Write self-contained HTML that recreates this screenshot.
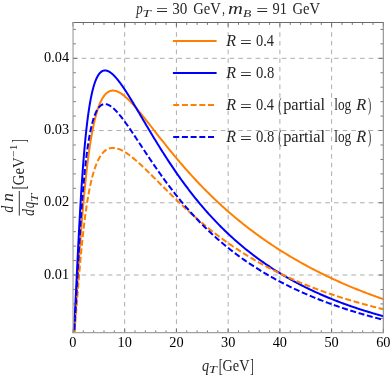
<!DOCTYPE html>
<html><head><meta charset="utf-8"><title>plot</title>
<style>html,body{margin:0;padding:0;background:#fff;}.tx,.tx text,.tx tspan{font-family:"Liberation Serif",serif;}body{width:390px;height:379px;position:relative;overflow:hidden;font-family:"Liberation Serif",serif;}</style>
</head><body>
<svg width="390" height="379" viewBox="0 0 390 379" style="position:absolute;left:0;top:0;will-change:transform">
<defs><clipPath id="cp"><rect x="72.95" y="22.70" width="310.40" height="309.90"/></clipPath></defs>
<g stroke="#adadad" stroke-width="1" stroke-dasharray="4.6 4.1" fill="none"><line x1="124.68" x2="124.68" y1="332.60" y2="22.70"/><line x1="176.42" x2="176.42" y1="332.60" y2="22.70"/><line x1="228.15" x2="228.15" y1="332.60" y2="22.70"/><line x1="279.88" x2="279.88" y1="332.60" y2="22.70"/><line x1="331.62" x2="331.62" y1="332.60" y2="22.70"/><line x1="72.95" x2="383.35" y1="275.02" y2="275.02"/><line x1="72.95" x2="383.35" y1="202.78" y2="202.78"/><line x1="72.95" x2="383.35" y1="130.54" y2="130.54"/><line x1="72.95" x2="383.35" y1="58.30" y2="58.30"/></g>
<g clip-path="url(#cp)" fill="none" stroke-width="2.00" stroke-linejoin="round">
<path d="M73.11,347.19 L73.21,345.86 L73.31,344.51 L73.42,343.14 L73.52,341.75 L73.63,340.34 L73.73,338.92 L73.83,337.49 L73.94,336.03 L74.04,334.57 L74.15,333.09 L74.25,331.60 L74.35,330.10 L74.46,328.59 L74.56,327.06 L74.67,325.53 L74.77,323.99 L74.88,322.44 L74.98,320.88 L75.08,319.32 L75.19,317.75 L75.29,316.17 L75.40,314.59 L75.50,313.00 L75.60,311.41 L75.71,309.82 L75.81,308.22 L75.92,306.62 L76.02,305.02 L76.12,303.42 L76.23,301.81 L76.33,300.21 L76.44,298.60 L76.54,296.99 L76.65,295.39 L76.75,293.78 L76.85,292.18 L76.96,290.57 L77.06,288.97 L77.17,287.37 L77.27,285.78 L77.37,284.18 L77.48,282.59 L77.58,281.00 L77.69,279.42 L77.79,277.84 L77.89,276.26 L78.00,274.69 L78.10,273.13 L78.21,271.56 L78.31,270.01 L78.42,268.45 L78.52,266.91 L78.62,265.37 L78.73,263.83 L78.83,262.31 L78.94,260.78 L79.04,259.27 L79.14,257.76 L79.25,256.26 L79.35,254.76 L79.46,253.27 L79.56,251.79 L79.67,250.32 L79.77,248.85 L79.87,247.39 L79.98,245.94 L80.08,244.50 L80.19,243.06 L80.29,241.63 L80.39,240.21 L80.50,238.80 L80.60,237.39 L80.71,236.00 L80.81,234.61 L80.91,233.23 L81.02,231.86 L81.12,230.50 L81.23,229.14 L81.33,227.79 L81.44,226.46 L81.54,225.13 L81.64,223.81 L81.75,222.50 L81.85,221.19 L81.96,219.90 L82.06,218.61 L82.16,217.34 L82.27,216.07 L82.37,214.81 L82.48,213.56 L82.58,212.32 L82.68,211.08 L82.79,209.86 L82.89,208.64 L83.00,207.44 L83.10,206.24 L83.21,205.05 L83.31,203.87 L83.41,202.70 L83.52,201.54 L83.62,200.38 L83.73,199.24 L83.83,198.10 L83.93,196.97 L84.04,195.85 L84.14,194.74 L84.25,193.64 L84.35,192.54 L84.45,191.46 L84.56,190.38 L84.66,189.31 L84.77,188.26 L84.87,187.20 L84.98,186.16 L85.08,185.13 L85.18,184.10 L85.29,183.08 L85.39,182.07 L85.50,181.07 L85.60,180.08 L85.70,179.10 L85.81,178.12 L85.91,177.15 L86.02,176.19 L86.12,175.24 L86.23,174.29 L86.33,173.36 L86.43,172.43 L86.54,171.51 L86.64,170.60 L86.75,169.69 L86.85,168.79 L86.95,167.90 L87.06,167.02 L87.16,166.15 L87.27,165.28 L87.37,164.42 L87.47,163.57 L87.58,162.73 L87.68,161.89 L87.79,161.06 L87.89,160.24 L88.00,159.42 L88.10,158.62 L88.20,157.82 L88.31,157.02 L88.41,156.24 L88.52,155.46 L88.62,154.69 L88.93,152.42 L89.24,150.20 L89.56,148.05 L89.87,145.96 L90.18,143.93 L90.49,141.95 L90.80,140.03 L91.12,138.16 L91.43,136.35 L91.74,134.59 L92.05,132.87 L92.36,131.21 L92.68,129.60 L92.99,128.03 L93.30,126.51 L93.61,125.04 L93.92,123.61 L94.24,122.22 L94.55,120.88 L94.86,119.57 L95.17,118.31 L95.48,117.09 L95.80,115.90 L96.11,114.76 L96.42,113.65 L96.73,112.57 L97.04,111.54 L97.35,110.53 L97.67,109.56 L97.98,108.62 L98.29,107.72 L98.60,106.84 L98.91,106.00 L99.23,105.19 L99.54,104.40 L99.85,103.65 L100.16,102.92 L100.47,102.22 L100.79,101.54 L101.10,100.89 L101.41,100.27 L101.72,99.67 L102.03,99.10 L102.35,98.55 L102.66,98.02 L102.97,97.51 L103.28,97.03 L103.59,96.57 L103.91,96.13 L104.22,95.70 L104.53,95.30 L104.84,94.92 L105.15,94.56 L105.47,94.22 L105.78,93.89 L106.09,93.59 L106.40,93.30 L106.71,93.02 L107.03,92.77 L107.34,92.53 L107.65,92.30 L107.96,92.09 L108.27,91.90 L108.59,91.72 L108.90,91.56 L109.21,91.41 L109.52,91.27 L109.83,91.15 L110.15,91.04 L110.46,90.94 L110.77,90.86 L111.08,90.78 L111.39,90.72 L111.71,90.68 L112.02,90.64 L112.33,90.61 L112.64,90.60 L112.95,90.59 L113.26,90.60 L113.58,90.61 L113.89,90.64 L114.20,90.68 L114.51,90.72 L114.82,90.78 L115.14,90.84 L115.45,90.91 L115.76,90.99 L116.07,91.08 L116.38,91.18 L116.70,91.29 L117.01,91.40 L117.32,91.52 L117.63,91.65 L117.94,91.79 L118.26,91.93 L118.57,92.08 L118.88,92.24 L119.19,92.40 L119.50,92.57 L119.82,92.75 L120.13,92.93 L120.44,93.12 L120.75,93.31 L121.06,93.52 L121.38,93.72 L121.69,93.93 L122.00,94.15 L122.31,94.37 L122.62,94.60 L122.94,94.83 L123.25,95.07 L123.56,95.31 L123.87,95.56 L124.18,95.81 L124.50,96.07 L124.81,96.33 L125.12,96.60 L125.43,96.86 L125.74,97.14 L126.06,97.41 L126.37,97.69 L126.68,97.98 L126.99,98.27 L127.30,98.56 L127.61,98.85 L127.93,99.15 L128.24,99.45 L128.55,99.76 L128.86,100.07 L129.17,100.38 L129.49,100.69 L129.80,101.01 L130.11,101.33 L130.42,101.65 L130.73,101.98 L131.05,102.31 L131.36,102.64 L131.67,102.97 L131.98,103.30 L132.29,103.64 L132.61,103.98 L132.92,104.32 L133.23,104.67 L133.54,105.02 L133.85,105.36 L134.17,105.71 L134.48,106.07 L134.79,106.42 L135.10,106.78 L135.41,107.14 L135.73,107.49 L136.04,107.86 L136.35,108.22 L136.66,108.58 L136.97,108.95 L137.29,109.32 L137.60,109.69 L137.91,110.06 L138.22,110.43 L138.53,110.80 L138.85,111.18 L139.16,111.55 L139.47,111.93 L139.78,112.31 L140.09,112.68 L140.41,113.06 L140.72,113.45 L141.03,113.83 L141.34,114.21 L141.65,114.59 L141.97,114.98 L142.28,115.36 L142.59,115.75 L142.90,116.14 L143.21,116.53 L143.52,116.92 L143.84,117.30 L144.15,117.69 L144.46,118.09 L144.77,118.48 L145.08,118.87 L145.40,119.26 L145.71,119.65 L146.02,120.05 L146.33,120.44 L146.64,120.84 L146.96,121.23 L147.27,121.63 L147.58,122.02 L147.89,122.42 L148.20,122.81 L148.52,123.21 L148.83,123.61 L149.14,124.00 L149.45,124.40 L149.76,124.80 L150.08,125.20 L150.39,125.59 L150.70,125.99 L151.88,127.50 L153.06,129.00 L154.23,130.51 L155.41,132.01 L156.59,133.52 L157.77,135.02 L158.94,136.52 L160.12,138.01 L161.30,139.51 L162.48,140.99 L163.65,142.48 L164.83,143.95 L166.01,145.43 L167.19,146.89 L168.36,148.35 L169.54,149.80 L170.72,151.25 L171.90,152.69 L173.08,154.12 L174.25,155.54 L175.43,156.96 L176.61,158.37 L177.79,159.77 L178.96,161.16 L180.14,162.54 L181.32,163.92 L182.50,165.28 L183.67,166.64 L184.85,167.99 L186.03,169.33 L187.21,170.66 L188.38,171.98 L189.56,173.29 L190.74,174.60 L191.92,175.89 L193.10,177.18 L194.27,178.45 L195.45,179.72 L196.63,180.98 L197.81,182.23 L198.98,183.47 L200.16,184.70 L201.34,185.93 L202.52,187.14 L203.69,188.35 L204.87,189.54 L206.05,190.73 L207.23,191.91 L208.40,193.08 L209.58,194.24 L210.76,195.40 L211.94,196.54 L213.12,197.68 L214.29,198.81 L215.47,199.93 L216.65,201.04 L217.83,202.14 L219.00,203.23 L220.18,204.32 L221.36,205.40 L222.54,206.47 L223.71,207.53 L224.89,208.59 L226.07,209.63 L227.25,210.67 L228.42,211.70 L229.60,212.73 L230.78,213.74 L231.96,214.75 L233.14,215.75 L234.31,216.74 L235.49,217.73 L236.67,218.71 L237.85,219.68 L239.02,220.64 L240.20,221.60 L241.38,222.55 L242.56,223.49 L243.73,224.43 L244.91,225.36 L246.09,226.28 L247.27,227.20 L248.44,228.11 L249.62,229.01 L250.80,229.90 L251.98,230.79 L253.16,231.67 L254.33,232.55 L255.51,233.42 L256.69,234.28 L257.87,235.14 L259.04,235.99 L260.22,236.84 L261.40,237.68 L262.58,238.51 L263.75,239.33 L264.93,240.16 L266.11,240.97 L267.29,241.78 L268.46,242.58 L269.64,243.38 L270.82,244.17 L272.00,244.96 L273.18,245.74 L274.35,246.51 L275.53,247.28 L276.71,248.05 L277.89,248.81 L279.06,249.56 L280.24,250.31 L281.42,251.05 L282.60,251.79 L283.77,252.52 L284.95,253.25 L286.13,253.97 L287.31,254.68 L288.48,255.40 L289.66,256.10 L290.84,256.81 L292.02,257.50 L293.20,258.19 L294.37,258.88 L295.55,259.56 L296.73,260.24 L297.91,260.91 L299.08,261.58 L300.26,262.25 L301.44,262.91 L302.62,263.56 L303.79,264.21 L304.97,264.86 L306.15,265.50 L307.33,266.13 L308.50,266.77 L309.68,267.39 L310.86,268.02 L312.04,268.64 L313.22,269.25 L314.39,269.86 L315.57,270.47 L316.75,271.07 L317.93,271.67 L319.10,272.26 L320.28,272.85 L321.46,273.44 L322.64,274.02 L323.81,274.60 L324.99,275.17 L326.17,275.74 L327.35,276.31 L328.52,276.87 L329.70,277.43 L330.88,277.98 L332.06,278.53 L333.24,279.08 L334.41,279.62 L335.59,280.16 L336.77,280.69 L337.95,281.23 L339.12,281.75 L340.30,282.28 L341.48,282.80 L342.66,283.32 L343.83,283.83 L345.01,284.34 L346.19,284.85 L347.37,285.35 L348.54,285.85 L349.72,286.35 L350.90,286.84 L352.08,287.33 L353.26,287.81 L354.43,288.30 L355.61,288.78 L356.79,289.25 L357.97,289.72 L359.14,290.19 L360.32,290.66 L361.50,291.12 L362.68,291.58 L363.85,292.04 L365.03,292.49 L366.21,292.94 L367.39,293.39 L368.56,293.83 L369.74,294.27 L370.92,294.71 L372.10,295.15 L373.28,295.58 L374.45,296.01 L375.63,296.43 L376.81,296.85 L377.99,297.27 L379.16,297.69 L380.34,298.11 L381.52,298.52 L382.70,298.92 L383.87,299.33 L385.05,299.73" stroke="#ff8000"/>
<path d="M73.11,347.18 L73.21,345.51 L73.31,343.81 L73.42,342.07 L73.52,340.30 L73.63,338.49 L73.73,336.66 L73.83,334.79 L73.94,332.89 L74.04,330.97 L74.15,329.03 L74.25,327.05 L74.35,325.06 L74.46,323.05 L74.56,321.02 L74.67,318.97 L74.77,316.90 L74.88,314.81 L74.98,312.72 L75.08,310.61 L75.19,308.49 L75.29,306.36 L75.40,304.21 L75.50,302.07 L75.60,299.91 L75.71,297.75 L75.81,295.58 L75.92,293.41 L76.02,291.24 L76.12,289.06 L76.23,286.88 L76.33,284.71 L76.44,282.53 L76.54,280.36 L76.65,278.18 L76.75,276.01 L76.85,273.85 L76.96,271.69 L77.06,269.53 L77.17,267.38 L77.27,265.24 L77.37,263.10 L77.48,260.97 L77.58,258.85 L77.69,256.74 L77.79,254.63 L77.89,252.54 L78.00,250.45 L78.10,248.38 L78.21,246.32 L78.31,244.27 L78.42,242.23 L78.52,240.20 L78.62,238.18 L78.73,236.18 L78.83,234.19 L78.94,232.21 L79.04,230.25 L79.14,228.30 L79.25,226.36 L79.35,224.44 L79.46,222.53 L79.56,220.64 L79.67,218.76 L79.77,216.90 L79.87,215.05 L79.98,213.21 L80.08,211.40 L80.19,209.59 L80.29,207.80 L80.39,206.03 L80.50,204.27 L80.60,202.53 L80.71,200.80 L80.81,199.09 L80.91,197.40 L81.02,195.72 L81.12,194.06 L81.23,192.41 L81.33,190.78 L81.44,189.16 L81.54,187.56 L81.64,185.97 L81.75,184.40 L81.85,182.85 L81.96,181.31 L82.06,179.79 L82.16,178.28 L82.27,176.79 L82.37,175.31 L82.48,173.85 L82.58,172.41 L82.68,170.98 L82.79,169.56 L82.89,168.16 L83.00,166.78 L83.10,165.41 L83.21,164.06 L83.31,162.72 L83.41,161.39 L83.52,160.08 L83.62,158.78 L83.73,157.50 L83.83,156.24 L83.93,154.98 L84.04,153.74 L84.14,152.52 L84.25,151.31 L84.35,150.11 L84.45,148.93 L84.56,147.76 L84.66,146.60 L84.77,145.46 L84.87,144.33 L84.98,143.22 L85.08,142.12 L85.18,141.03 L85.29,139.95 L85.39,138.89 L85.50,137.84 L85.60,136.80 L85.70,135.77 L85.81,134.76 L85.91,133.76 L86.02,132.77 L86.12,131.79 L86.23,130.83 L86.33,129.87 L86.43,128.93 L86.54,128.00 L86.64,127.08 L86.75,126.18 L86.85,125.28 L86.95,124.40 L87.06,123.52 L87.16,122.66 L87.27,121.81 L87.37,120.97 L87.47,120.14 L87.58,119.32 L87.68,118.51 L87.79,117.71 L87.89,116.92 L88.00,116.14 L88.10,115.37 L88.20,114.61 L88.31,113.87 L88.41,113.13 L88.52,112.40 L88.62,111.68 L88.93,109.58 L89.24,107.56 L89.56,105.62 L89.87,103.75 L90.18,101.96 L90.49,100.25 L90.80,98.60 L91.12,97.02 L91.43,95.51 L91.74,94.06 L92.05,92.67 L92.36,91.34 L92.68,90.06 L92.99,88.85 L93.30,87.68 L93.61,86.57 L93.92,85.51 L94.24,84.50 L94.55,83.53 L94.86,82.61 L95.17,81.74 L95.48,80.90 L95.80,80.11 L96.11,79.36 L96.42,78.65 L96.73,77.97 L97.04,77.34 L97.35,76.73 L97.67,76.16 L97.98,75.63 L98.29,75.12 L98.60,74.65 L98.91,74.21 L99.23,73.79 L99.54,73.41 L99.85,73.05 L100.16,72.72 L100.47,72.41 L100.79,72.13 L101.10,71.88 L101.41,71.64 L101.72,71.43 L102.03,71.24 L102.35,71.08 L102.66,70.93 L102.97,70.80 L103.28,70.70 L103.59,70.61 L103.91,70.54 L104.22,70.49 L104.53,70.46 L104.84,70.44 L105.15,70.44 L105.47,70.45 L105.78,70.48 L106.09,70.53 L106.40,70.59 L106.71,70.66 L107.03,70.75 L107.34,70.85 L107.65,70.97 L107.96,71.09 L108.27,71.23 L108.59,71.38 L108.90,71.55 L109.21,71.72 L109.52,71.90 L109.83,72.10 L110.15,72.31 L110.46,72.52 L110.77,72.75 L111.08,72.98 L111.39,73.23 L111.71,73.48 L112.02,73.74 L112.33,74.01 L112.64,74.29 L112.95,74.58 L113.26,74.87 L113.58,75.17 L113.89,75.48 L114.20,75.80 L114.51,76.12 L114.82,76.45 L115.14,76.79 L115.45,77.13 L115.76,77.48 L116.07,77.83 L116.38,78.20 L116.70,78.56 L117.01,78.94 L117.32,79.31 L117.63,79.70 L117.94,80.08 L118.26,80.48 L118.57,80.88 L118.88,81.28 L119.19,81.69 L119.50,82.10 L119.82,82.51 L120.13,82.93 L120.44,83.36 L120.75,83.79 L121.06,84.22 L121.38,84.66 L121.69,85.09 L122.00,85.54 L122.31,85.98 L122.62,86.43 L122.94,86.89 L123.25,87.34 L123.56,87.80 L123.87,88.26 L124.18,88.73 L124.50,89.20 L124.81,89.67 L125.12,90.14 L125.43,90.62 L125.74,91.09 L126.06,91.57 L126.37,92.06 L126.68,92.54 L126.99,93.03 L127.30,93.52 L127.61,94.01 L127.93,94.50 L128.24,94.99 L128.55,95.49 L128.86,95.99 L129.17,96.49 L129.49,96.99 L129.80,97.49 L130.11,98.00 L130.42,98.50 L130.73,99.01 L131.05,99.52 L131.36,100.03 L131.67,100.54 L131.98,101.05 L132.29,101.57 L132.61,102.08 L132.92,102.60 L133.23,103.11 L133.54,103.63 L133.85,104.15 L134.17,104.67 L134.48,105.19 L134.79,105.71 L135.10,106.23 L135.41,106.75 L135.73,107.28 L136.04,107.80 L136.35,108.33 L136.66,108.85 L136.97,109.38 L137.29,109.90 L137.60,110.43 L137.91,110.95 L138.22,111.48 L138.53,112.01 L138.85,112.53 L139.16,113.06 L139.47,113.59 L139.78,114.12 L140.09,114.65 L140.41,115.18 L140.72,115.70 L141.03,116.23 L141.34,116.76 L141.65,117.29 L141.97,117.82 L142.28,118.35 L142.59,118.88 L142.90,119.41 L143.21,119.93 L143.52,120.46 L143.84,120.99 L144.15,121.52 L144.46,122.05 L144.77,122.58 L145.08,123.10 L145.40,123.63 L145.71,124.16 L146.02,124.69 L146.33,125.21 L146.64,125.74 L146.96,126.26 L147.27,126.79 L147.58,127.32 L147.89,127.84 L148.20,128.37 L148.52,128.89 L148.83,129.41 L149.14,129.94 L149.45,130.46 L149.76,130.98 L150.08,131.50 L150.39,132.02 L150.70,132.55 L151.88,134.51 L153.06,136.46 L154.23,138.40 L155.41,140.34 L156.59,142.26 L157.77,144.17 L158.94,146.08 L160.12,147.97 L161.30,149.85 L162.48,151.71 L163.65,153.57 L164.83,155.41 L166.01,157.24 L167.19,159.05 L168.36,160.85 L169.54,162.64 L170.72,164.41 L171.90,166.17 L173.08,167.92 L174.25,169.65 L175.43,171.36 L176.61,173.06 L177.79,174.75 L178.96,176.42 L180.14,178.08 L181.32,179.72 L182.50,181.35 L183.67,182.96 L184.85,184.56 L186.03,186.15 L187.21,187.72 L188.38,189.27 L189.56,190.81 L190.74,192.34 L191.92,193.85 L193.10,195.35 L194.27,196.83 L195.45,198.30 L196.63,199.75 L197.81,201.19 L198.98,202.62 L200.16,204.03 L201.34,205.43 L202.52,206.82 L203.69,208.19 L204.87,209.55 L206.05,210.89 L207.23,212.22 L208.40,213.54 L209.58,214.84 L210.76,216.14 L211.94,217.42 L213.12,218.68 L214.29,219.94 L215.47,221.18 L216.65,222.41 L217.83,223.62 L219.00,224.83 L220.18,226.02 L221.36,227.20 L222.54,228.37 L223.71,229.52 L224.89,230.67 L226.07,231.80 L227.25,232.92 L228.42,234.04 L229.60,235.14 L230.78,236.22 L231.96,237.30 L233.14,238.37 L234.31,239.43 L235.49,240.47 L236.67,241.51 L237.85,242.53 L239.02,243.55 L240.20,244.55 L241.38,245.55 L242.56,246.53 L243.73,247.51 L244.91,248.47 L246.09,249.43 L247.27,250.37 L248.44,251.31 L249.62,252.24 L250.80,253.16 L251.98,254.07 L253.16,254.97 L254.33,255.86 L255.51,256.74 L256.69,257.61 L257.87,258.48 L259.04,259.34 L260.22,260.19 L261.40,261.03 L262.58,261.86 L263.75,262.68 L264.93,263.50 L266.11,264.31 L267.29,265.11 L268.46,265.90 L269.64,266.68 L270.82,267.46 L272.00,268.23 L273.18,268.99 L274.35,269.75 L275.53,270.49 L276.71,271.23 L277.89,271.97 L279.06,272.69 L280.24,273.41 L281.42,274.12 L282.60,274.83 L283.77,275.53 L284.95,276.22 L286.13,276.91 L287.31,277.58 L288.48,278.26 L289.66,278.92 L290.84,279.58 L292.02,280.24 L293.20,280.88 L294.37,281.52 L295.55,282.16 L296.73,282.79 L297.91,283.41 L299.08,284.03 L300.26,284.64 L301.44,285.25 L302.62,285.85 L303.79,286.44 L304.97,287.03 L306.15,287.61 L307.33,288.19 L308.50,288.77 L309.68,289.33 L310.86,289.89 L312.04,290.45 L313.22,291.00 L314.39,291.55 L315.57,292.09 L316.75,292.63 L317.93,293.16 L319.10,293.69 L320.28,294.21 L321.46,294.72 L322.64,295.24 L323.81,295.74 L324.99,296.25 L326.17,296.74 L327.35,297.24 L328.52,297.73 L329.70,298.21 L330.88,298.69 L332.06,299.17 L333.24,299.64 L334.41,300.10 L335.59,300.57 L336.77,301.03 L337.95,301.48 L339.12,301.93 L340.30,302.38 L341.48,302.82 L342.66,303.26 L343.83,303.69 L345.01,304.12 L346.19,304.55 L347.37,304.97 L348.54,305.39 L349.72,305.80 L350.90,306.21 L352.08,306.62 L353.26,307.02 L354.43,307.42 L355.61,307.82 L356.79,308.21 L357.97,308.60 L359.14,308.98 L360.32,309.36 L361.50,309.74 L362.68,310.12 L363.85,310.49 L365.03,310.86 L366.21,311.22 L367.39,311.58 L368.56,311.94 L369.74,312.29 L370.92,312.65 L372.10,312.99 L373.28,313.34 L374.45,313.68 L375.63,314.02 L376.81,314.36 L377.99,314.69 L379.16,315.02 L380.34,315.35 L381.52,315.67 L382.70,315.99 L383.87,316.31 L385.05,316.62" stroke="#0000ff"/>
<path d="M73.11,347.21 L73.21,346.21 L73.31,345.19 L73.42,344.15 L73.52,343.09 L73.63,342.01 L73.73,340.91 L73.83,339.80 L73.94,338.67 L74.04,337.52 L74.15,336.36 L74.25,335.19 L74.35,334.00 L74.46,332.80 L74.56,331.58 L74.67,330.36 L74.77,329.12 L74.88,327.88 L74.98,326.63 L75.08,325.36 L75.19,324.09 L75.29,322.82 L75.40,321.53 L75.50,320.24 L75.60,318.95 L75.71,317.65 L75.81,316.34 L75.92,315.04 L76.02,313.72 L76.12,312.41 L76.23,311.09 L76.33,309.78 L76.44,308.46 L76.54,307.14 L76.65,305.81 L76.75,304.49 L76.85,303.17 L76.96,301.85 L77.06,300.53 L77.17,299.22 L77.27,297.90 L77.37,296.59 L77.48,295.28 L77.58,293.97 L77.69,292.66 L77.79,291.36 L77.89,290.06 L78.00,288.77 L78.10,287.48 L78.21,286.20 L78.31,284.91 L78.42,283.64 L78.52,282.37 L78.62,281.10 L78.73,279.84 L78.83,278.59 L78.94,277.34 L79.04,276.10 L79.14,274.86 L79.25,273.63 L79.35,272.41 L79.46,271.19 L79.56,269.98 L79.67,268.78 L79.77,267.58 L79.87,266.39 L79.98,265.21 L80.08,264.04 L80.19,262.87 L80.29,261.71 L80.39,260.56 L80.50,259.41 L80.60,258.27 L80.71,257.14 L80.81,256.02 L80.91,254.91 L81.02,253.80 L81.12,252.70 L81.23,251.61 L81.33,250.53 L81.44,249.46 L81.54,248.39 L81.64,247.33 L81.75,246.28 L81.85,245.24 L81.96,244.20 L82.06,243.18 L82.16,242.16 L82.27,241.15 L82.37,240.15 L82.48,239.15 L82.58,238.17 L82.68,237.19 L82.79,236.22 L82.89,235.26 L83.00,234.31 L83.10,233.36 L83.21,232.42 L83.31,231.49 L83.41,230.57 L83.52,229.66 L83.62,228.75 L83.73,227.85 L83.83,226.96 L83.93,226.08 L84.04,225.21 L84.14,224.34 L84.25,223.48 L84.35,222.63 L84.45,221.79 L84.56,220.95 L84.66,220.12 L84.77,219.30 L84.87,218.49 L84.98,217.68 L85.08,216.88 L85.18,216.09 L85.29,215.30 L85.39,214.53 L85.50,213.76 L85.60,212.99 L85.70,212.24 L85.81,211.49 L85.91,210.75 L86.02,210.01 L86.12,209.29 L86.23,208.57 L86.33,207.85 L86.43,207.15 L86.54,206.45 L86.64,205.75 L86.75,205.07 L86.85,204.39 L86.95,203.71 L87.06,203.04 L87.16,202.38 L87.27,201.73 L87.37,201.08 L87.47,200.44 L87.58,199.80 L87.68,199.17 L87.79,198.55 L87.89,197.93 L88.00,197.32 L88.10,196.72 L88.20,196.12 L88.31,195.53 L88.41,194.94 L88.52,194.36 L88.62,193.78 L88.93,192.09 L89.24,190.45 L89.56,188.86 L89.87,187.32 L90.18,185.82 L90.49,184.37 L90.80,182.96 L91.12,181.60 L91.43,180.28 L91.74,179.00 L92.05,177.75 L92.36,176.55 L92.68,175.38 L92.99,174.26 L93.30,173.16 L93.61,172.10 L93.92,171.08 L94.24,170.09 L94.55,169.13 L94.86,168.20 L95.17,167.30 L95.48,166.43 L95.80,165.59 L96.11,164.78 L96.42,163.99 L96.73,163.23 L97.04,162.50 L97.35,161.79 L97.67,161.11 L97.98,160.45 L98.29,159.81 L98.60,159.20 L98.91,158.60 L99.23,158.03 L99.54,157.48 L99.85,156.96 L100.16,156.45 L100.47,155.96 L100.79,155.49 L101.10,155.03 L101.41,154.60 L101.72,154.18 L102.03,153.78 L102.35,153.40 L102.66,153.03 L102.97,152.68 L103.28,152.34 L103.59,152.02 L103.91,151.71 L104.22,151.42 L104.53,151.14 L104.84,150.88 L105.15,150.63 L105.47,150.39 L105.78,150.17 L106.09,149.95 L106.40,149.75 L106.71,149.56 L107.03,149.38 L107.34,149.22 L107.65,149.06 L107.96,148.92 L108.27,148.78 L108.59,148.66 L108.90,148.55 L109.21,148.44 L109.52,148.35 L109.83,148.26 L110.15,148.19 L110.46,148.12 L110.77,148.06 L111.08,148.01 L111.39,147.97 L111.71,147.94 L112.02,147.91 L112.33,147.89 L112.64,147.88 L112.95,147.88 L113.26,147.89 L113.58,147.90 L113.89,147.92 L114.20,147.94 L114.51,147.97 L114.82,148.01 L115.14,148.06 L115.45,148.11 L115.76,148.17 L116.07,148.23 L116.38,148.30 L116.70,148.38 L117.01,148.46 L117.32,148.55 L117.63,148.64 L117.94,148.73 L118.26,148.84 L118.57,148.94 L118.88,149.06 L119.19,149.17 L119.50,149.30 L119.82,149.42 L120.13,149.55 L120.44,149.69 L120.75,149.83 L121.06,149.97 L121.38,150.12 L121.69,150.27 L122.00,150.43 L122.31,150.59 L122.62,150.75 L122.94,150.92 L123.25,151.09 L123.56,151.27 L123.87,151.45 L124.18,151.63 L124.50,151.82 L124.81,152.00 L125.12,152.20 L125.43,152.39 L125.74,152.59 L126.06,152.79 L126.37,153.00 L126.68,153.20 L126.99,153.41 L127.30,153.63 L127.61,153.84 L127.93,154.06 L128.24,154.28 L128.55,154.50 L128.86,154.73 L129.17,154.96 L129.49,155.19 L129.80,155.42 L130.11,155.66 L130.42,155.89 L130.73,156.13 L131.05,156.38 L131.36,156.62 L131.67,156.87 L131.98,157.11 L132.29,157.36 L132.61,157.62 L132.92,157.87 L133.23,158.13 L133.54,158.38 L133.85,158.64 L134.17,158.90 L134.48,159.17 L134.79,159.43 L135.10,159.70 L135.41,159.96 L135.73,160.23 L136.04,160.50 L136.35,160.77 L136.66,161.05 L136.97,161.32 L137.29,161.60 L137.60,161.87 L137.91,162.15 L138.22,162.43 L138.53,162.71 L138.85,163.00 L139.16,163.28 L139.47,163.56 L139.78,163.85 L140.09,164.13 L140.41,164.42 L140.72,164.71 L141.03,165.00 L141.34,165.29 L141.65,165.58 L141.97,165.88 L142.28,166.17 L142.59,166.46 L142.90,166.76 L143.21,167.05 L143.52,167.35 L143.84,167.65 L144.15,167.95 L144.46,168.24 L144.77,168.54 L145.08,168.84 L145.40,169.14 L145.71,169.45 L146.02,169.75 L146.33,170.05 L146.64,170.35 L146.96,170.66 L147.27,170.96 L147.58,171.27 L147.89,171.57 L148.20,171.88 L148.52,172.18 L148.83,172.49 L149.14,172.80 L149.45,173.11 L149.76,173.41 L150.08,173.72 L150.39,174.03 L150.70,174.34 L151.88,175.51 L153.06,176.68 L154.23,177.86 L155.41,179.04 L156.59,180.22 L157.77,181.40 L158.94,182.58 L160.12,183.76 L161.30,184.94 L162.48,186.12 L163.65,187.30 L164.83,188.47 L166.01,189.64 L167.19,190.81 L168.36,191.98 L169.54,193.14 L170.72,194.30 L171.90,195.46 L173.08,196.61 L174.25,197.75 L175.43,198.89 L176.61,200.03 L177.79,201.16 L178.96,202.28 L180.14,203.40 L181.32,204.51 L182.50,205.62 L183.67,206.72 L184.85,207.81 L186.03,208.90 L187.21,209.98 L188.38,211.05 L189.56,212.12 L190.74,213.18 L191.92,214.23 L193.10,215.28 L194.27,216.32 L195.45,217.35 L196.63,218.37 L197.81,219.39 L198.98,220.40 L200.16,221.40 L201.34,222.40 L202.52,223.39 L203.69,224.37 L204.87,225.34 L206.05,226.31 L207.23,227.26 L208.40,228.22 L209.58,229.16 L210.76,230.10 L211.94,231.02 L213.12,231.95 L214.29,232.86 L215.47,233.77 L216.65,234.67 L217.83,235.56 L219.00,236.45 L220.18,237.32 L221.36,238.19 L222.54,239.06 L223.71,239.91 L224.89,240.76 L226.07,241.61 L227.25,242.44 L228.42,243.27 L229.60,244.09 L230.78,244.91 L231.96,245.72 L233.14,246.52 L234.31,247.31 L235.49,248.10 L236.67,248.88 L237.85,249.66 L239.02,250.42 L240.20,251.19 L241.38,251.94 L242.56,252.69 L243.73,253.43 L244.91,254.17 L246.09,254.90 L247.27,255.62 L248.44,256.34 L249.62,257.05 L250.80,257.76 L251.98,258.46 L253.16,259.15 L254.33,259.84 L255.51,260.52 L256.69,261.20 L257.87,261.87 L259.04,262.53 L260.22,263.19 L261.40,263.84 L262.58,264.49 L263.75,265.13 L264.93,265.77 L266.11,266.40 L267.29,267.03 L268.46,267.65 L269.64,268.26 L270.82,268.87 L272.00,269.48 L273.18,270.08 L274.35,270.67 L275.53,271.26 L276.71,271.85 L277.89,272.43 L279.06,273.00 L280.24,273.57 L281.42,274.14 L282.60,274.70 L283.77,275.26 L284.95,275.81 L286.13,276.36 L287.31,276.90 L288.48,277.44 L289.66,277.97 L290.84,278.50 L292.02,279.02 L293.20,279.54 L294.37,280.06 L295.55,280.57 L296.73,281.08 L297.91,281.58 L299.08,282.08 L300.26,282.58 L301.44,283.07 L302.62,283.55 L303.79,284.04 L304.97,284.52 L306.15,284.99 L307.33,285.46 L308.50,285.93 L309.68,286.39 L310.86,286.85 L312.04,287.31 L313.22,287.76 L314.39,288.21 L315.57,288.66 L316.75,289.10 L317.93,289.54 L319.10,289.97 L320.28,290.40 L321.46,290.83 L322.64,291.25 L323.81,291.67 L324.99,292.09 L326.17,292.51 L327.35,292.92 L328.52,293.32 L329.70,293.73 L330.88,294.13 L332.06,294.53 L333.24,294.92 L334.41,295.31 L335.59,295.70 L336.77,296.09 L337.95,296.47 L339.12,296.85 L340.30,297.23 L341.48,297.60 L342.66,297.97 L343.83,298.34 L345.01,298.70 L346.19,299.07 L347.37,299.43 L348.54,299.78 L349.72,300.14 L350.90,300.49 L352.08,300.84 L353.26,301.18 L354.43,301.52 L355.61,301.86 L356.79,302.20 L357.97,302.54 L359.14,302.87 L360.32,303.20 L361.50,303.53 L362.68,303.85 L363.85,304.18 L365.03,304.50 L366.21,304.81 L367.39,305.13 L368.56,305.44 L369.74,305.75 L370.92,306.06 L372.10,306.37 L373.28,306.67 L374.45,306.97 L375.63,307.27 L376.81,307.57 L377.99,307.86 L379.16,308.16 L380.34,308.45 L381.52,308.73 L382.70,309.02 L383.87,309.30 L385.05,309.59" stroke="#ff8000" stroke-dasharray="6.02 2.62" stroke-dashoffset="1.85"/>
<path d="M73.11,347.20 L73.21,345.92 L73.31,344.60 L73.42,343.24 L73.52,341.85 L73.63,340.42 L73.73,338.97 L73.83,337.48 L73.94,335.96 L74.04,334.41 L74.15,332.83 L74.25,331.23 L74.35,329.60 L74.46,327.95 L74.56,326.28 L74.67,324.59 L74.77,322.87 L74.88,321.14 L74.98,319.39 L75.08,317.62 L75.19,315.84 L75.29,314.05 L75.40,312.24 L75.50,310.42 L75.60,308.59 L75.71,306.75 L75.81,304.90 L75.92,303.05 L76.02,301.18 L76.12,299.32 L76.23,297.44 L76.33,295.57 L76.44,293.69 L76.54,291.80 L76.65,289.92 L76.75,288.04 L76.85,286.15 L76.96,284.27 L77.06,282.39 L77.17,280.51 L77.27,278.64 L77.37,276.76 L77.48,274.90 L77.58,273.03 L77.69,271.18 L77.79,269.32 L77.89,267.48 L78.00,265.64 L78.10,263.81 L78.21,261.98 L78.31,260.17 L78.42,258.36 L78.52,256.56 L78.62,254.77 L78.73,252.99 L78.83,251.23 L78.94,249.47 L79.04,247.72 L79.14,245.98 L79.25,244.26 L79.35,242.54 L79.46,240.84 L79.56,239.15 L79.67,237.47 L79.77,235.80 L79.87,234.15 L79.98,232.50 L80.08,230.87 L80.19,229.26 L80.29,227.65 L80.39,226.06 L80.50,224.49 L80.60,222.92 L80.71,221.37 L80.81,219.84 L80.91,218.31 L81.02,216.80 L81.12,215.31 L81.23,213.83 L81.33,212.36 L81.44,210.90 L81.54,209.46 L81.64,208.03 L81.75,206.62 L81.85,205.22 L81.96,203.83 L82.06,202.46 L82.16,201.10 L82.27,199.76 L82.37,198.43 L82.48,197.11 L82.58,195.81 L82.68,194.51 L82.79,193.24 L82.89,191.97 L83.00,190.73 L83.10,189.49 L83.21,188.27 L83.31,187.06 L83.41,185.86 L83.52,184.68 L83.62,183.51 L83.73,182.35 L83.83,181.20 L83.93,180.07 L84.04,178.95 L84.14,177.85 L84.25,176.75 L84.35,175.67 L84.45,174.60 L84.56,173.55 L84.66,172.50 L84.77,171.47 L84.87,170.45 L84.98,169.44 L85.08,168.45 L85.18,167.46 L85.29,166.49 L85.39,165.53 L85.50,164.58 L85.60,163.64 L85.70,162.72 L85.81,161.80 L85.91,160.90 L86.02,160.00 L86.12,159.12 L86.23,158.25 L86.33,157.39 L86.43,156.54 L86.54,155.70 L86.64,154.87 L86.75,154.05 L86.85,153.24 L86.95,152.44 L87.06,151.65 L87.16,150.88 L87.27,150.11 L87.37,149.35 L87.47,148.60 L87.58,147.86 L87.68,147.13 L87.79,146.41 L87.89,145.70 L88.00,144.99 L88.10,144.30 L88.20,143.62 L88.31,142.94 L88.41,142.27 L88.52,141.62 L88.62,140.97 L88.93,139.07 L89.24,137.25 L89.56,135.51 L89.87,133.83 L90.18,132.22 L90.49,130.67 L90.80,129.19 L91.12,127.77 L91.43,126.41 L91.74,125.11 L92.05,123.86 L92.36,122.66 L92.68,121.52 L92.99,120.43 L93.30,119.39 L93.61,118.39 L93.92,117.44 L94.24,116.53 L94.55,115.67 L94.86,114.85 L95.17,114.06 L95.48,113.32 L95.80,112.61 L96.11,111.94 L96.42,111.31 L96.73,110.70 L97.04,110.14 L97.35,109.60 L97.67,109.09 L97.98,108.62 L98.29,108.17 L98.60,107.75 L98.91,107.36 L99.23,106.99 L99.54,106.65 L99.85,106.34 L100.16,106.04 L100.47,105.77 L100.79,105.53 L101.10,105.30 L101.41,105.10 L101.72,104.92 L102.03,104.75 L102.35,104.61 L102.66,104.48 L102.97,104.38 L103.28,104.29 L103.59,104.21 L103.91,104.16 L104.22,104.12 L104.53,104.09 L104.84,104.08 L105.15,104.09 L105.47,104.11 L105.78,104.14 L106.09,104.19 L106.40,104.25 L106.71,104.32 L107.03,104.41 L107.34,104.50 L107.65,104.61 L107.96,104.73 L108.27,104.86 L108.59,105.00 L108.90,105.16 L109.21,105.32 L109.52,105.49 L109.83,105.67 L110.15,105.86 L110.46,106.06 L110.77,106.27 L111.08,106.49 L111.39,106.71 L111.71,106.94 L112.02,107.18 L112.33,107.43 L112.64,107.69 L112.95,107.95 L113.26,108.22 L113.58,108.50 L113.89,108.78 L114.20,109.07 L114.51,109.37 L114.82,109.67 L115.14,109.98 L115.45,110.29 L115.76,110.61 L116.07,110.93 L116.38,111.26 L116.70,111.60 L117.01,111.94 L117.32,112.28 L117.63,112.63 L117.94,112.98 L118.26,113.34 L118.57,113.70 L118.88,114.07 L119.19,114.44 L119.50,114.82 L119.82,115.19 L120.13,115.58 L120.44,115.96 L120.75,116.35 L121.06,116.74 L121.38,117.14 L121.69,117.54 L122.00,117.94 L122.31,118.35 L122.62,118.75 L122.94,119.17 L123.25,119.58 L123.56,120.00 L123.87,120.41 L124.18,120.84 L124.50,121.26 L124.81,121.69 L125.12,122.11 L125.43,122.54 L125.74,122.98 L126.06,123.41 L126.37,123.85 L126.68,124.29 L126.99,124.73 L127.30,125.17 L127.61,125.61 L127.93,126.06 L128.24,126.50 L128.55,126.95 L128.86,127.40 L129.17,127.85 L129.49,128.31 L129.80,128.76 L130.11,129.22 L130.42,129.67 L130.73,130.13 L131.05,130.59 L131.36,131.05 L131.67,131.51 L131.98,131.97 L132.29,132.43 L132.61,132.90 L132.92,133.36 L133.23,133.83 L133.54,134.29 L133.85,134.76 L134.17,135.23 L134.48,135.70 L134.79,136.16 L135.10,136.63 L135.41,137.10 L135.73,137.57 L136.04,138.04 L136.35,138.51 L136.66,138.98 L136.97,139.46 L137.29,139.93 L137.60,140.40 L137.91,140.87 L138.22,141.34 L138.53,141.82 L138.85,142.29 L139.16,142.76 L139.47,143.24 L139.78,143.71 L140.09,144.18 L140.41,144.66 L140.72,145.13 L141.03,145.60 L141.34,146.07 L141.65,146.55 L141.97,147.02 L142.28,147.49 L142.59,147.97 L142.90,148.44 L143.21,148.91 L143.52,149.38 L143.84,149.85 L144.15,150.33 L144.46,150.80 L144.77,151.27 L145.08,151.74 L145.40,152.21 L145.71,152.68 L146.02,153.15 L146.33,153.62 L146.64,154.09 L146.96,154.56 L147.27,155.02 L147.58,155.49 L147.89,155.96 L148.20,156.43 L148.52,156.89 L148.83,157.36 L149.14,157.82 L149.45,158.29 L149.76,158.75 L150.08,159.22 L150.39,159.68 L150.70,160.14 L151.88,161.88 L153.06,163.61 L154.23,165.33 L155.41,167.04 L156.59,168.74 L157.77,170.43 L158.94,172.11 L160.12,173.78 L161.30,175.43 L162.48,177.07 L163.65,178.70 L164.83,180.32 L166.01,181.92 L167.19,183.51 L168.36,185.09 L169.54,186.65 L170.72,188.20 L171.90,189.73 L173.08,191.25 L174.25,192.76 L175.43,194.26 L176.61,195.74 L177.79,197.20 L178.96,198.65 L180.14,200.09 L181.32,201.52 L182.50,202.93 L183.67,204.32 L184.85,205.71 L186.03,207.08 L187.21,208.43 L188.38,209.77 L189.56,211.10 L190.74,212.42 L191.92,213.72 L193.10,215.01 L194.27,216.28 L195.45,217.55 L196.63,218.80 L197.81,220.03 L198.98,221.26 L200.16,222.47 L201.34,223.67 L202.52,224.85 L203.69,226.03 L204.87,227.19 L206.05,228.34 L207.23,229.48 L208.40,230.61 L209.58,231.72 L210.76,232.83 L211.94,233.92 L213.12,235.00 L214.29,236.07 L215.47,237.13 L216.65,238.18 L217.83,239.22 L219.00,240.24 L220.18,241.26 L221.36,242.27 L222.54,243.26 L223.71,244.25 L224.89,245.22 L226.07,246.19 L227.25,247.15 L228.42,248.09 L229.60,249.03 L230.78,249.96 L231.96,250.87 L233.14,251.78 L234.31,252.68 L235.49,253.58 L236.67,254.46 L237.85,255.33 L239.02,256.20 L240.20,257.05 L241.38,257.90 L242.56,258.74 L243.73,259.57 L244.91,260.39 L246.09,261.21 L247.27,262.02 L248.44,262.82 L249.62,263.61 L250.80,264.39 L251.98,265.17 L253.16,265.94 L254.33,266.70 L255.51,267.46 L256.69,268.20 L257.87,268.94 L259.04,269.68 L260.22,270.40 L261.40,271.12 L262.58,271.84 L263.75,272.54 L264.93,273.24 L266.11,273.94 L267.29,274.62 L268.46,275.30 L269.64,275.98 L270.82,276.65 L272.00,277.31 L273.18,277.96 L274.35,278.61 L275.53,279.26 L276.71,279.90 L277.89,280.53 L279.06,281.16 L280.24,281.78 L281.42,282.39 L282.60,283.00 L283.77,283.61 L284.95,284.21 L286.13,284.80 L287.31,285.39 L288.48,285.97 L289.66,286.55 L290.84,287.12 L292.02,287.69 L293.20,288.25 L294.37,288.81 L295.55,289.37 L296.73,289.91 L297.91,290.46 L299.08,291.00 L300.26,291.53 L301.44,292.06 L302.62,292.59 L303.79,293.11 L304.97,293.62 L306.15,294.14 L307.33,294.64 L308.50,295.15 L309.68,295.64 L310.86,296.14 L312.04,296.63 L313.22,297.12 L314.39,297.60 L315.57,298.07 L316.75,298.55 L317.93,299.02 L319.10,299.48 L320.28,299.95 L321.46,300.40 L322.64,300.86 L323.81,301.31 L324.99,301.75 L326.17,302.20 L327.35,302.64 L328.52,303.07 L329.70,303.50 L330.88,303.93 L332.06,304.36 L333.24,304.78 L334.41,305.19 L335.59,305.61 L336.77,306.02 L337.95,306.42 L339.12,306.83 L340.30,307.23 L341.48,307.63 L342.66,308.02 L343.83,308.41 L345.01,308.80 L346.19,309.18 L347.37,309.56 L348.54,309.94 L349.72,310.31 L350.90,310.68 L352.08,311.05 L353.26,311.41 L354.43,311.78 L355.61,312.14 L356.79,312.49 L357.97,312.84 L359.14,313.19 L360.32,313.54 L361.50,313.88 L362.68,314.23 L363.85,314.56 L365.03,314.90 L366.21,315.23 L367.39,315.56 L368.56,315.89 L369.74,316.21 L370.92,316.53 L372.10,316.85 L373.28,317.17 L374.45,317.48 L375.63,317.79 L376.81,318.10 L377.99,318.40 L379.16,318.71 L380.34,319.01 L381.52,319.31 L382.70,319.60 L383.87,319.89 L385.05,320.18" stroke="#0000ff" stroke-dasharray="6.02 2.62" stroke-dashoffset="0.25"/>
</g>
<g stroke="#555" stroke-width="0.8" fill="none"><line x1="72.95" x2="72.95" y1="332.60" y2="328.80"/><line x1="72.95" x2="72.95" y1="22.70" y2="26.50"/><line x1="83.30" x2="83.30" y1="332.60" y2="330.40"/><line x1="83.30" x2="83.30" y1="22.70" y2="24.90"/><line x1="93.64" x2="93.64" y1="332.60" y2="330.40"/><line x1="93.64" x2="93.64" y1="22.70" y2="24.90"/><line x1="103.99" x2="103.99" y1="332.60" y2="330.40"/><line x1="103.99" x2="103.99" y1="22.70" y2="24.90"/><line x1="114.34" x2="114.34" y1="332.60" y2="330.40"/><line x1="114.34" x2="114.34" y1="22.70" y2="24.90"/><line x1="124.68" x2="124.68" y1="332.60" y2="328.80"/><line x1="124.68" x2="124.68" y1="22.70" y2="26.50"/><line x1="135.03" x2="135.03" y1="332.60" y2="330.40"/><line x1="135.03" x2="135.03" y1="22.70" y2="24.90"/><line x1="145.38" x2="145.38" y1="332.60" y2="330.40"/><line x1="145.38" x2="145.38" y1="22.70" y2="24.90"/><line x1="155.72" x2="155.72" y1="332.60" y2="330.40"/><line x1="155.72" x2="155.72" y1="22.70" y2="24.90"/><line x1="166.07" x2="166.07" y1="332.60" y2="330.40"/><line x1="166.07" x2="166.07" y1="22.70" y2="24.90"/><line x1="176.42" x2="176.42" y1="332.60" y2="328.80"/><line x1="176.42" x2="176.42" y1="22.70" y2="26.50"/><line x1="186.76" x2="186.76" y1="332.60" y2="330.40"/><line x1="186.76" x2="186.76" y1="22.70" y2="24.90"/><line x1="197.11" x2="197.11" y1="332.60" y2="330.40"/><line x1="197.11" x2="197.11" y1="22.70" y2="24.90"/><line x1="207.46" x2="207.46" y1="332.60" y2="330.40"/><line x1="207.46" x2="207.46" y1="22.70" y2="24.90"/><line x1="217.80" x2="217.80" y1="332.60" y2="330.40"/><line x1="217.80" x2="217.80" y1="22.70" y2="24.90"/><line x1="228.15" x2="228.15" y1="332.60" y2="328.80"/><line x1="228.15" x2="228.15" y1="22.70" y2="26.50"/><line x1="238.50" x2="238.50" y1="332.60" y2="330.40"/><line x1="238.50" x2="238.50" y1="22.70" y2="24.90"/><line x1="248.84" x2="248.84" y1="332.60" y2="330.40"/><line x1="248.84" x2="248.84" y1="22.70" y2="24.90"/><line x1="259.19" x2="259.19" y1="332.60" y2="330.40"/><line x1="259.19" x2="259.19" y1="22.70" y2="24.90"/><line x1="269.54" x2="269.54" y1="332.60" y2="330.40"/><line x1="269.54" x2="269.54" y1="22.70" y2="24.90"/><line x1="279.88" x2="279.88" y1="332.60" y2="328.80"/><line x1="279.88" x2="279.88" y1="22.70" y2="26.50"/><line x1="290.23" x2="290.23" y1="332.60" y2="330.40"/><line x1="290.23" x2="290.23" y1="22.70" y2="24.90"/><line x1="300.58" x2="300.58" y1="332.60" y2="330.40"/><line x1="300.58" x2="300.58" y1="22.70" y2="24.90"/><line x1="310.92" x2="310.92" y1="332.60" y2="330.40"/><line x1="310.92" x2="310.92" y1="22.70" y2="24.90"/><line x1="321.27" x2="321.27" y1="332.60" y2="330.40"/><line x1="321.27" x2="321.27" y1="22.70" y2="24.90"/><line x1="331.62" x2="331.62" y1="332.60" y2="328.80"/><line x1="331.62" x2="331.62" y1="22.70" y2="26.50"/><line x1="341.96" x2="341.96" y1="332.60" y2="330.40"/><line x1="341.96" x2="341.96" y1="22.70" y2="24.90"/><line x1="352.31" x2="352.31" y1="332.60" y2="330.40"/><line x1="352.31" x2="352.31" y1="22.70" y2="24.90"/><line x1="362.66" x2="362.66" y1="332.60" y2="330.40"/><line x1="362.66" x2="362.66" y1="22.70" y2="24.90"/><line x1="373.00" x2="373.00" y1="332.60" y2="330.40"/><line x1="373.00" x2="373.00" y1="22.70" y2="24.90"/><line x1="383.35" x2="383.35" y1="332.60" y2="328.80"/><line x1="383.35" x2="383.35" y1="22.70" y2="26.50"/><line x1="72.95" x2="75.85" y1="318.36" y2="318.36"/><line x1="383.35" x2="380.45" y1="318.36" y2="318.36"/><line x1="72.95" x2="75.85" y1="303.92" y2="303.92"/><line x1="383.35" x2="380.45" y1="303.92" y2="303.92"/><line x1="72.95" x2="75.85" y1="289.47" y2="289.47"/><line x1="383.35" x2="380.45" y1="289.47" y2="289.47"/><line x1="72.95" x2="77.35" y1="275.02" y2="275.02"/><line x1="383.35" x2="378.95" y1="275.02" y2="275.02"/><line x1="72.95" x2="75.85" y1="260.57" y2="260.57"/><line x1="383.35" x2="380.45" y1="260.57" y2="260.57"/><line x1="72.95" x2="75.85" y1="246.12" y2="246.12"/><line x1="383.35" x2="380.45" y1="246.12" y2="246.12"/><line x1="72.95" x2="75.85" y1="231.68" y2="231.68"/><line x1="383.35" x2="380.45" y1="231.68" y2="231.68"/><line x1="72.95" x2="75.85" y1="217.23" y2="217.23"/><line x1="383.35" x2="380.45" y1="217.23" y2="217.23"/><line x1="72.95" x2="77.35" y1="202.78" y2="202.78"/><line x1="383.35" x2="378.95" y1="202.78" y2="202.78"/><line x1="72.95" x2="75.85" y1="188.33" y2="188.33"/><line x1="383.35" x2="380.45" y1="188.33" y2="188.33"/><line x1="72.95" x2="75.85" y1="173.88" y2="173.88"/><line x1="383.35" x2="380.45" y1="173.88" y2="173.88"/><line x1="72.95" x2="75.85" y1="159.44" y2="159.44"/><line x1="383.35" x2="380.45" y1="159.44" y2="159.44"/><line x1="72.95" x2="75.85" y1="144.99" y2="144.99"/><line x1="383.35" x2="380.45" y1="144.99" y2="144.99"/><line x1="72.95" x2="77.35" y1="130.54" y2="130.54"/><line x1="383.35" x2="378.95" y1="130.54" y2="130.54"/><line x1="72.95" x2="75.85" y1="116.09" y2="116.09"/><line x1="383.35" x2="380.45" y1="116.09" y2="116.09"/><line x1="72.95" x2="75.85" y1="101.64" y2="101.64"/><line x1="383.35" x2="380.45" y1="101.64" y2="101.64"/><line x1="72.95" x2="75.85" y1="87.20" y2="87.20"/><line x1="383.35" x2="380.45" y1="87.20" y2="87.20"/><line x1="72.95" x2="75.85" y1="72.75" y2="72.75"/><line x1="383.35" x2="380.45" y1="72.75" y2="72.75"/><line x1="72.95" x2="77.35" y1="58.30" y2="58.30"/><line x1="383.35" x2="378.95" y1="58.30" y2="58.30"/><line x1="72.95" x2="75.85" y1="43.85" y2="43.85"/><line x1="383.35" x2="380.45" y1="43.85" y2="43.85"/><line x1="72.95" x2="75.85" y1="29.40" y2="29.40"/><line x1="383.35" x2="380.45" y1="29.40" y2="29.40"/></g>
<g fill="none" stroke-linecap="square"><line x1="72.95" x2="383.35" y1="22.5" y2="22.5" stroke="#6a6a6a" stroke-width="1"/><line x1="383.30" x2="383.30" y1="22.5" y2="332.60" stroke="#8c8c8c" stroke-width="1.1"/><line x1="72.95" x2="383.35" y1="332.60" y2="332.60" stroke="#a0a0a0" stroke-width="1.1"/><line x1="73.05" x2="73.05" y1="22.5" y2="332.60" stroke="#a2a2a2" stroke-width="1.2"/></g>
<g fill="none" stroke-width="2.0">
<line x1="172.9" x2="216.6" y1="41.1" y2="41.1" stroke="#ff8000"/>
<line x1="172.9" x2="216.6" y1="73.0" y2="73.0" stroke="#0000ff"/>
<line x1="173.2" x2="214.2" y1="105.0" y2="105.0" stroke="#ff8000" stroke-dasharray="6 2.7"/>
<line x1="173.2" x2="214.2" y1="136.9" y2="136.9" stroke="#0000ff" stroke-dasharray="6 2.7"/>
</g>
<g class="tx" fill="#000">
<text x="72.95" y="346.9" font-size="14.3" text-anchor="middle">0</text>
<text x="124.68" y="346.9" font-size="14.3" text-anchor="middle">10</text>
<text x="176.42" y="346.9" font-size="14.3" text-anchor="middle">20</text>
<text x="228.15" y="346.9" font-size="14.3" text-anchor="middle">30</text>
<text x="279.88" y="346.9" font-size="14.3" text-anchor="middle">40</text>
<text x="331.62" y="346.9" font-size="14.3" text-anchor="middle">50</text>
<text x="383.35" y="346.9" font-size="14.3" text-anchor="middle">60</text>
<text x="69.1" y="278.62" font-size="14.3" text-anchor="end">0.01</text>
<text x="69.1" y="206.38" font-size="14.3" text-anchor="end">0.02</text>
<text x="69.1" y="134.14" font-size="14.3" text-anchor="end">0.03</text>
<text x="69.1" y="61.90" font-size="14.3" text-anchor="end">0.04</text>
<g fill="#262626"><text transform="translate(136.18,14.25) scale(0.810,1.000)" style="font-size:16.0px;font-style:italic;">p</text>
<text transform="translate(142.40,16.80) scale(1.188,0.820)" style="font-size:12.6px;font-style:italic;">T</text>
<text transform="translate(156.08,16.25) scale(1.338,1.000)" style="font-size:16.0px;">=</text>
<text transform="translate(172.19,14.25) scale(0.945,1.000)" style="font-size:16.0px;">30</text>
<text transform="translate(193.21,14.25) scale(0.911,1.000)" style="font-size:16.0px;">GeV</text>
<text transform="translate(222.15,14.25) scale(0.667,1.000)" style="font-size:16.0px;">,</text>
<text transform="translate(228.05,14.25) scale(1.148,0.900)" style="font-size:18px;font-style:italic;">m</text>
<text transform="translate(243.04,16.80) scale(1.113,0.850)" style="font-size:12.2px;font-style:italic;">B</text>
<text transform="translate(256.19,16.25) scale(1.324,1.000)" style="font-size:16.0px;">=</text>
<text transform="translate(272.60,14.25) scale(0.903,1.000)" style="font-size:16.0px;">91</text>
<text transform="translate(292.41,14.25) scale(0.911,1.000)" style="font-size:16.0px;">GeV</text>
<text transform="translate(226.25,46.40) scale(1.000,1.000)" style="font-size:16.0px;font-style:italic;">R</text>
<text transform="translate(240.00,47.80) scale(1.311,1.000)" style="font-size:16.0px;">=</text>
<text transform="translate(256.01,46.40) scale(0.901,1.000)" style="font-size:16.0px;">0.4</text>
<text transform="translate(226.25,78.35) scale(1.000,1.000)" style="font-size:16.0px;font-style:italic;">R</text>
<text transform="translate(240.00,79.75) scale(1.311,1.000)" style="font-size:16.0px;">=</text>
<text transform="translate(256.00,78.35) scale(0.915,1.000)" style="font-size:16.0px;">0.8</text>
<text transform="translate(226.25,110.30) scale(1.000,1.000)" style="font-size:16.0px;font-style:italic;">R</text>
<text transform="translate(240.00,111.70) scale(1.311,1.000)" style="font-size:16.0px;">=</text>
<text transform="translate(256.01,110.30) scale(0.901,1.000)" style="font-size:16.0px;">0.4</text>
<text transform="translate(278.32,111.00) scale(0.610,1.120)" style="font-size:16.0px;">(</text>
<text transform="translate(283.14,110.30) scale(1.027,1.000)" style="font-size:16.0px;">partial</text>
<text transform="translate(334.20,110.30) scale(0.833,1.000)" style="font-size:16.0px;">log</text>
<text transform="translate(356.35,110.30) scale(1.021,1.000)" style="font-size:16.0px;font-style:italic;">R</text>
<text transform="translate(367.95,111.00) scale(0.600,1.120)" style="font-size:16.0px;">)</text>
<text transform="translate(226.25,142.25) scale(1.000,1.000)" style="font-size:16.0px;font-style:italic;">R</text>
<text transform="translate(240.00,143.65) scale(1.311,1.000)" style="font-size:16.0px;">=</text>
<text transform="translate(256.00,142.25) scale(0.915,1.000)" style="font-size:16.0px;">0.8</text>
<text transform="translate(278.32,142.95) scale(0.610,1.120)" style="font-size:16.0px;">(</text>
<text transform="translate(283.14,142.25) scale(1.027,1.000)" style="font-size:16.0px;">partial</text>
<text transform="translate(334.20,142.25) scale(0.833,1.000)" style="font-size:16.0px;">log</text>
<text transform="translate(356.35,142.25) scale(1.021,1.000)" style="font-size:16.0px;font-style:italic;">R</text>
<text transform="translate(367.95,142.95) scale(0.600,1.120)" style="font-size:16.0px;">)</text>
<text transform="translate(202.11,370.85) scale(0.887,1.000)" style="font-size:16.0px;font-style:italic;">q</text>
<text transform="translate(208.82,373.40) scale(1.159,0.820)" style="font-size:12.6px;font-style:italic;">T</text>
<text transform="translate(218.86,372.25) scale(0.743,1.220)" style="font-size:16.0px;">[</text>
<text transform="translate(222.53,370.85) scale(0.891,1.000)" style="font-size:16.0px;">GeV</text>
<text transform="translate(250.16,372.25) scale(0.657,1.220)" style="font-size:16.0px;">]</text>
<text transform="translate(24.90,189.37) rotate(-90) scale(0.686,1.220)" style="font-size:16.0px;">[</text>
<text transform="translate(23.70,185.20) rotate(-90) scale(0.925,1.000)" style="font-size:16.0px;">GeV</text>
<text transform="translate(16.60,156.70) rotate(-90) scale(1.099,1.000)" style="font-size:10.6px;">−1</text>
<text transform="translate(24.90,142.76) rotate(-90) scale(0.686,1.220)" style="font-size:16.0px;">]</text>
<text transform="translate(13.10,212.68) rotate(-90) scale(0.867,1.000)" style="font-size:16.0px;font-style:italic;">d</text>
<text transform="translate(13.10,201.79) rotate(-90) scale(1.075,1.000)" style="font-size:16.0px;font-style:italic;">n</text>
<text transform="translate(33.80,215.98) rotate(-90) scale(0.867,1.000)" style="font-size:16.0px;font-style:italic;">d</text>
<text transform="translate(33.80,208.25) rotate(-90) scale(0.803,1.000)" style="font-size:16.0px;font-style:italic;">q</text>
<text transform="translate(37.60,202.10) rotate(-90) scale(1.188,0.820)" style="font-size:12.6px;font-style:italic;">T</text>
<line x1="19.3" x2="19.3" y1="191" y2="215.6" stroke="#000" stroke-width="0.8"/></g>
</g>
</svg>
</body></html>
